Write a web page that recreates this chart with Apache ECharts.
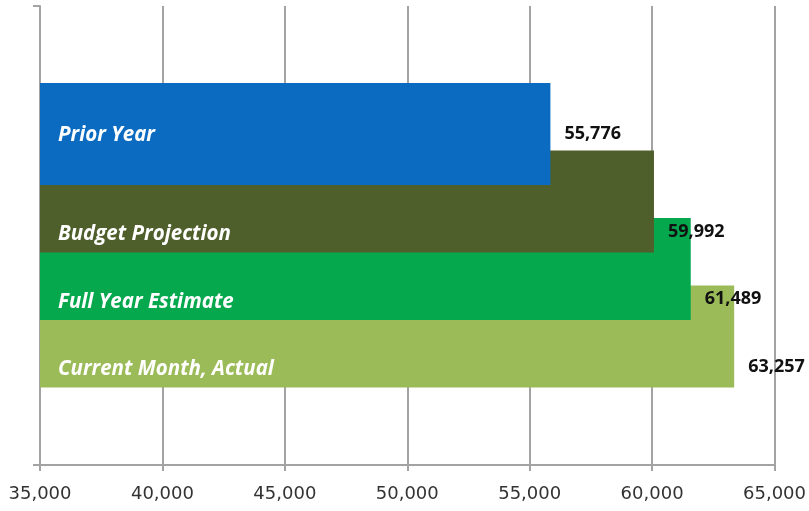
<!DOCTYPE html>
<html>
<head>
<meta charset="utf-8">
<script src="https://cdn.jsdelivr.net/npm/echarts@6/dist/echarts.min.js"></script>
<style>
html,body{margin:0;padding:0;background:#fff;}
#chart{width:809px;height:511px;}
</style>
</head>
<body>
<div id="chart"></div>
<script>
// ---- data ----
const categories = ['Prior Year', 'Budget Projection', 'Full Year Estimate', 'Current Month, Actual'];
const values = [55776, 59992, 61489, 63257];
const barColors = ['#0A6BC1', '#4F5F2B', '#06A84E', '#9BBB59'];
const axisMin = 35000;
const axisMax = 65000;
const axisStep = 5000;

// ---- build ----
// category axis draws first category at bottom; reverse so that top bar is drawn last (on top)
const order = categories.map((c, i) => i).reverse();
const yCats = order.map(i => categories[i]);
const nameShift = i => (i === 0 ? 1 : 33);
const valueShift = i => (i === 0 ? 0 : 30);

const barData = order.map(i => ({
  value: values[i],
  itemStyle: { color: barColors[i] },
  label: { offset: [0, nameShift(i)] }
}));
const valueLabelData = order.map(i => ({
  value: values[i],
  label: { offset: [0, valueShift(i)] }
}));

const grey = '#a3a3a3';
const fmt = v => v.toLocaleString('en-US');

const chart = echarts.init(document.getElementById('chart'), null, { renderer: 'canvas' });
chart.setOption({
  animation: false,
  backgroundColor: '#ffffff',
  grid: [
    { left: 40, right: 32, top: 6, bottom: 46 },
    { left: 40, right: 32, top: 100.25, bottom: 140.75 }
  ],
  xAxis: [
    {
      gridIndex: 0, type: 'value', min: axisMin, max: axisMax, interval: axisStep,
      axisLine: { show: true, lineStyle: { color: grey, width: 2 } },
      axisTick: { show: true, length: 6, lineStyle: { color: grey, width: 2 } },
      splitLine: { show: true, lineStyle: { color: grey, width: 2 } },
      axisLabel: {
        formatter: fmt, margin: 20, color: '#333333',
        fontFamily: 'DejaVu Sans', fontSize: 18
      }
    },
    {
      gridIndex: 1, type: 'value', min: axisMin, max: axisMax, startValue: axisMin, show: false
    }
  ],
  yAxis: [
    {
      gridIndex: 0, type: 'value', min: 0, max: 1, interval: 1,
      axisLine: { show: true, lineStyle: { color: grey, width: 2 } },
      axisTick: { show: true, length: 7, lineStyle: { color: grey, width: 2 } },
      axisLabel: { show: false },
      splitLine: { show: false }
    },
    {
      gridIndex: 1, type: 'category', data: yCats, show: false
    }
  ],
  series: [
    {
      type: 'bar', xAxisIndex: 1, yAxisIndex: 1,
      barWidth: 102, barGap: '-100%', clip: false,
      data: barData,
      label: {
        show: true, position: 'insideLeft', distance: 18,
        formatter: '{b}', color: '#ffffff',
        fontFamily: 'Open Sans', fontWeight: 'bold', fontStyle: 'italic', fontSize: 20.5
      },
      z: 2
    },
    {
      type: 'bar', xAxisIndex: 1, yAxisIndex: 1,
      barWidth: 102, barGap: '-100%', clip: false,
      data: valueLabelData,
      itemStyle: { color: 'rgba(0,0,0,0)' },
      silent: true,
      label: {
        show: true, position: 'right', distance: 14,
        formatter: p => fmt(p.value), color: '#111111',
        fontFamily: 'Open Sans', fontWeight: 'bold', fontSize: 18
      },
      z: 3
    }
  ]
});
</script>
</body>
</html>
